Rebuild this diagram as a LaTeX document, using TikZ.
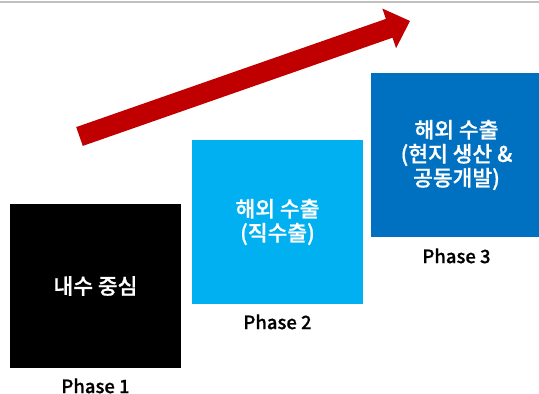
\documentclass[tikz,border=0pt]{standalone}
\usepackage{fontspec}
\newfontfamily\krfont[FakeBold=0.9]{Noto Sans CJK KR Medium}
\newfontfamily\krmedium[FakeBold=0.6]{Noto Sans CJK KR Medium}
\usetikzlibrary{positioning}

\definecolor{arrowred}{HTML}{C00000}
\definecolor{skyblue}{HTML}{00B0F0}
\definecolor{deepblue}{HTML}{0070C0}
\definecolor{rulegray}{HTML}{BFBFBF}

\tikzset{
  phasebox/.style={rectangle,inner sep=0pt,minimum width=171pt,minimum height=164pt,
    text=white,align=center,font=\krfont\fontsize{21.5}{24}\selectfont},
  phaselabel/.style={inner sep=0pt,text=black,font=\krmedium\fontsize{18.5}{20}\selectfont}
}

\begin{document}
\begin{tikzpicture}[x=1pt,y=-1pt]
  \useasboundingbox (0,0) rectangle (539,394);

  % Top rule
  \draw[rulegray,line width=2pt] (0,2) -- (539,2);

  % Growth arrow
  \fill[arrowred] (76.2,127.1) -- (385.9,18.9) -- (382.3,8.5) -- (410,21)
    -- (396.1,48.1) -- (392.5,37.7) -- (82.8,145.9) -- cycle;

  % Phase boxes
  \node[phasebox,fill=black] (p1) at (95.5,286) {내수 중심};
  \node[phasebox,fill=skyblue] (p2) at (277.5,222) {해외 수출\\(직수출)};
  \node[phasebox,fill=deepblue] (p3) at (456.5,155) {해외 수출\\(현지 생산 \&\\공동개발)};

  % Phase labels
  \node[phaselabel,below=10pt of p1] (l1) {Phase 1};
  \node[phaselabel,below=10pt of p2] (l2) {Phase 2};
  \node[phaselabel,below=11pt of p3] (l3) {Phase 3};
\end{tikzpicture}
\end{document}
